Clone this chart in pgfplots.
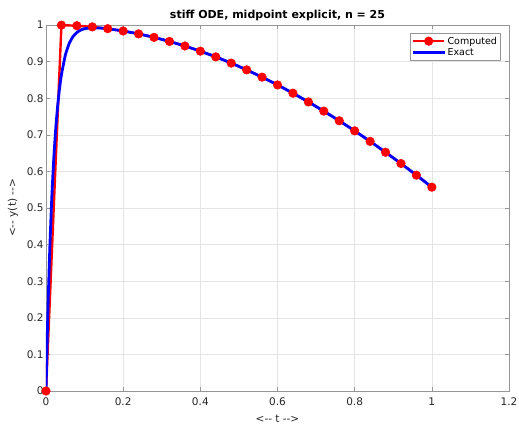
\documentclass[border=0pt]{standalone}
\usepackage{fontspec}
\setmainfont{DejaVu Sans}
\usepackage{pgfplots}
\pgfplotsset{compat=1.18}

\definecolor{axgray}{RGB}{38,38,38}
\definecolor{boxgray}{RGB}{150,150,150}
\definecolor{gridgray}{RGB}{228,228,228}

\begin{document}
\begin{tikzpicture}
\begin{axis}[
    name=main,
    scale only axis,
    width=463pt, height=366pt,
    xmin=0, xmax=1.2,
    ymin=0, ymax=1,
    xtick={0,0.2,...,1.2},
    ytick={0,0.1,...,1},
    xticklabels={0,0.2,0.4,0.6,0.8,1,1.2},
    yticklabels={0,0.1,0.2,0.3,0.4,0.5,0.6,0.7,0.8,0.9,1},
    tick align=inside,
    major tick length=4pt,
    tick style={boxgray, line width=0.5pt},
    axis line style={boxgray, line width=0.6pt},
    grid=major,
    grid style={gridgray, line width=0.5pt},
    ticklabel style={font=\fontsize{10.5}{12}\selectfont, text=axgray},
    xticklabel style={yshift=-3pt},
    yticklabel style={xshift=1pt},
    /pgf/number format/assume math mode=true,
    title={\bfseries stiff ODE, midpoint explicit, n = 25},
    title style={font=\fontsize{11}{13}\selectfont, at={(0.5,1)}, anchor=base},
    xlabel={<{-}{-} t {-}{-}>},
    ylabel={<{-}{-} y(t) {-}{-}>},
    label style={font=\fontsize{10.5}{12}\selectfont, text=axgray},
    xlabel style={at={(0.5,0)}, anchor=center, yshift=-28pt},
    ylabel style={at={(0,0.5)}, anchor=center, yshift=33pt},
    legend style={at={(0.982,0.978)}, anchor=north east,
        font=\fontsize{9.5}{11}\selectfont, draw=boxgray, line width=0.5pt,
        inner sep=1.5pt, row sep=-1pt},
    legend cell align=left,
    legend image code/.code={
        \draw[mark repeat=2, mark phase=2] plot coordinates {(0pt,0pt) (15.5pt,0pt) (31pt,0pt)};},
]
\addplot[color=red, line width=2.4pt, mark=*, mark size=4.3pt,
    mark options={fill=red, line width=0.5pt}]
coordinates {
(0,0)(0.04,0.9996)(0.08,0.9980)(0.12,0.9948)(0.16,0.9900)(0.20,0.9836)
(0.24,0.9757)(0.28,0.9662)(0.32,0.9551)(0.36,0.9426)(0.40,0.9285)
(0.44,0.9129)(0.48,0.8959)(0.52,0.8774)(0.56,0.8575)(0.60,0.8363)
(0.64,0.8137)(0.68,0.7898)(0.72,0.7647)(0.76,0.7383)(0.80,0.7108)
(0.84,0.6821)(0.88,0.6523)(0.92,0.6215)(0.96,0.5897)(1.00,0.5569)
};
\addlegendentry{Computed}

\addplot[color=blue, line width=2.8pt, smooth, tension=0.3]
coordinates {
(0,0)(0.005,0.2212)(0.01,0.3935)(0.015,0.5276)(0.02,0.6321)(0.025,0.7134)
(0.03,0.7767)(0.035,0.8260)(0.04,0.8643)(0.05,0.9173)(0.06,0.9492)
(0.07,0.9684)(0.08,0.9797)(0.09,0.9862)(0.10,0.9899)(0.12,0.9923)
(0.14,0.9917)(0.16,0.9897)(0.20,0.9836)(0.24,0.9757)(0.28,0.9662)
(0.32,0.9551)(0.36,0.9426)(0.40,0.9285)(0.44,0.9129)(0.48,0.8959)
(0.52,0.8774)(0.56,0.8575)(0.60,0.8363)(0.64,0.8137)(0.68,0.7898)
(0.72,0.7647)(0.76,0.7383)(0.80,0.7108)(0.84,0.6821)(0.88,0.6523)
(0.92,0.6215)(0.96,0.5897)(1.00,0.5569)
};
\addlegendentry{Exact}
\end{axis}
\pgfresetboundingbox
\path ([shift={(-46pt,-34pt)}]main.south west) rectangle ([shift={(10pt,25pt)}]main.north east);
\end{tikzpicture}
\end{document}
